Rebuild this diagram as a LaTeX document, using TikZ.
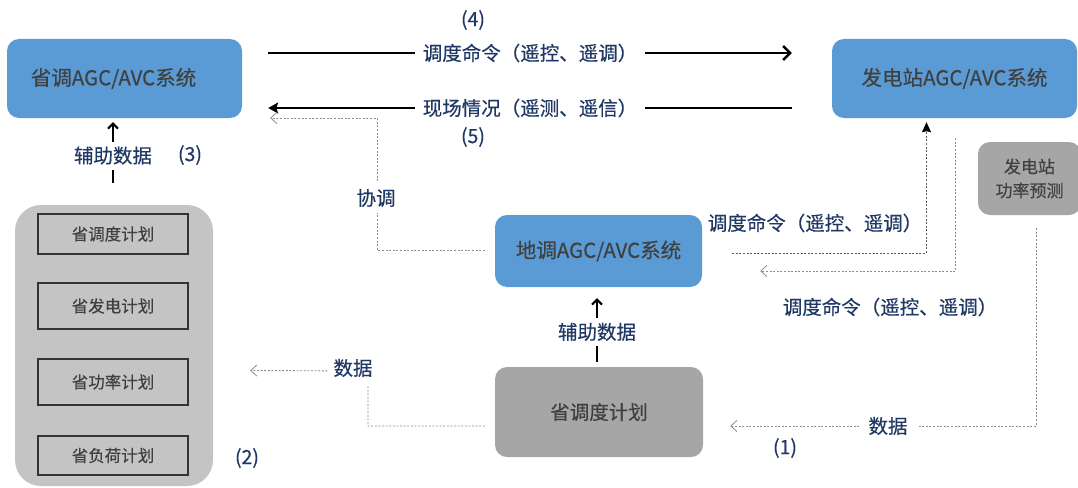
\documentclass[tikz,border=0pt]{standalone}
\usepackage{fontspec}
\setmainfont{Noto Sans CJK SC}[FakeBold=0.35]
\usetikzlibrary{arrows.meta}
\definecolor{boxblue}{HTML}{5B9BD5}
\definecolor{boxtext}{HTML}{404040}
\definecolor{navy}{HTML}{1F3864}
\definecolor{grayD}{HTML}{A6A6A6}
\definecolor{grayCont}{HTML}{C4C4C4}
\definecolor{dashgray}{HTML}{8C8C8C}
\definecolor{dashdark}{HTML}{595959}
\begin{document}
\begin{tikzpicture}[x=1pt,y=-1pt,
  sysbox/.style={fill=boxblue, rounded corners=12pt, text=boxtext, inner sep=0pt,
    font=\fontsize{20.5}{23}\selectfont},
  graybox/.style={fill=grayD, rounded corners=12pt, text=boxtext, inner sep=0pt,
    font=\fontsize{19.5}{22}\selectfont},
  planbox/.style={fill=grayCont, draw=black!80, line width=1.4pt, text=boxtext, inner sep=0pt,
    minimum width=150pt, font=\fontsize{16.5}{19}\selectfont},
  lbl/.style={text=navy, font=\fontsize{19.5}{22}\selectfont, inner sep=0pt},
  wlbl/.style={lbl, fill=white, inner xsep=8pt, inner ysep=3pt},
  mainline/.style={line width=2.4pt, black},
  auxline/.style={line width=2pt, black, -{Straight Barb[length=5pt,width=10pt,line width=2pt]}},
  dline/.style={dashgray, line width=0.9pt, dash pattern=on 2pt off 1.6pt},
  openhead/.style={-{Straight Barb[length=6pt,width=11pt,line width=0.8pt]}},
]
\useasboundingbox (0,0) rectangle (1078,487);

% boxes
\node[sysbox, minimum width=235pt, minimum height=79pt] (A) at (124.5,78.5) {\hspace*{-22pt}省调AGC/AVC系统};
\node[sysbox, minimum width=245pt, minimum height=79pt] (B) at (954.5,78.5) {发电站AGC/AVC系统};
\node[sysbox, minimum width=207pt, minimum height=72pt] (C) at (598.5,251) {地调AGC/AVC系统};
\node[graybox, minimum width=208pt, minimum height=90pt] (D) at (599,412) {省调度计划};
\node[graybox, minimum width=103pt, minimum height=73pt, align=center,
      font=\fontsize{17}{24}\selectfont] (E) at (1029.5,178.5) {发电站\\功率预测};

% container with plans
\node[fill=grayCont, rounded corners=26pt, minimum width=198pt, minimum height=281pt, inner sep=0pt] (cont) at (114,345.5) {};
\node[planbox, minimum height=40pt] (p1) at (113,234) {省调度计划};
\node[planbox, minimum height=46pt] (p2) at (113,306) {省发电计划};
\node[planbox, minimum height=46pt] (p3) at (113,382) {省功率计划};
\node[planbox, minimum height=39pt] (p4) at (113,455.5) {省负荷计划};

% main arrows A <-> B
\draw[mainline, -{Straight Barb[length=7pt,width=14pt,line width=2.4pt]}]
  ([shift={(26,-25.5)}]A.east) -- ([shift={(-40,-25.5)}]B.west)
  node[wlbl, pos=0.5] (cmd) {调度命令（遥控、遥调）};
\draw[mainline, -{Stealth[length=10pt,width=11pt,inset=2pt]}]
  ([shift={(-40,29.5)}]B.west) -- ([shift={(26,29.5)}]A.east)
  node[wlbl, pos=0.5] (fld) {现场情况（遥测、遥信）};
\node[lbl] (n4) at (473,20) {(4)};
\node[lbl] (n5) at (473,137) {(5)};

% coordination C -> A
\draw[dline, openhead] ([shift={(-10,-1)}]C.west) -| (377,118) -- ([shift={(28,39.5)}]A.east);
\node[wlbl, inner xsep=2pt, inner ysep=6pt] (xt) at (376,198) {协调};

% auxiliary data
\draw[auxline] ([shift={(-1,-22)}]cont.north) -- ([shift={(-11.5,4)}]A.south)
  node[wlbl, pos=0.45, inner ysep=5pt] (aux1) {辅助数据};
\node[lbl] (n3) at (190,155) {(3)};
\draw[auxline] ([shift={(-2,-5)}]D.north) -- ([shift={(-1.5,11)}]C.south)
  node[wlbl, pos=0.47, inner ysep=5pt] (aux2) {辅助数据};

% commands C -> B and B -> C
\draw[dline, dashdark, -{Stealth[length=10pt,width=9pt,inset=1pt,color=black]}]
  ([shift={(30,2)}]C.east) -| ([shift={(-28,4)}]B.south);
\node[lbl] (c1) at (815,223) {调度命令（遥控、遥调）};
\draw[dline, openhead] ([shift={(1,20)}]B.south) |- ([shift={(58,20)}]C.east);
\node[lbl] (c2) at (890,307) {调度命令（遥控、遥调）};

% data E -> D
\draw[dline, openhead] ([shift={(6.5,13)}]E.south) |- ([shift={(27,14)}]D.east);
\node[wlbl, inner xsep=10pt] (d1) at (888,426) {数据};
\node[lbl] (n1) at (785,448) {(1)};

% data D -> plans
\draw[dline, openhead] ([shift={(-10,14)}]D.west) -| (368,371) -- ([shift={(37,25)}]cont.east);
\node[wlbl, inner xsep=6pt, inner ysep=8pt] (d2) at (353,368) {数据};
\node[lbl] (n2) at (247,458) {(2)};
\end{tikzpicture}
\end{document}
